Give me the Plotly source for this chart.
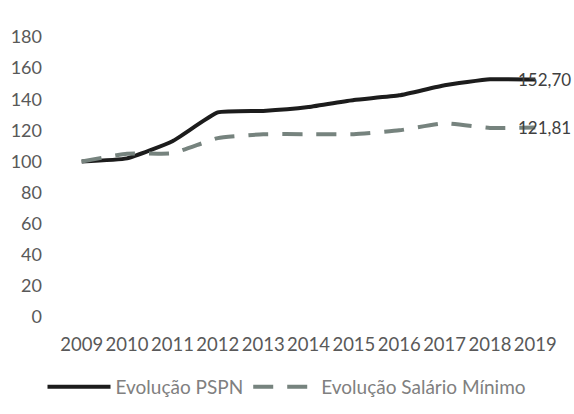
import plotly.graph_objects as go

years = ["2009", "2010", "2011", "2012", "2013", "2014", "2015", "2016", "2017", "2018", "2019"]
pspn = [100, 102, 113, 131.5, 132.5, 135, 139.5, 142.5, 149, 152.8, 152.70]
salario = [100, 105, 105.3, 115, 117.5, 117.5, 117.5, 120, 124.5, 121.5, 121.81]
yticks = [0, 20, 40, 60, 80, 100, 120, 140, 160, 180]

font = "Lato"
grey = "#595959"

fig = go.Figure()
fig.add_trace(go.Scatter(
    x=years, y=pspn, mode="lines", name="Evolução PSPN",
    line=dict(color="#1c1c1c", width=4, shape="spline", smoothing=0.4),
))
fig.add_trace(go.Scatter(
    x=years, y=salario, mode="lines", name="Evolução Salário Mínimo",
    line=dict(color="#76837e", width=4, dash="20px,14px", shape="spline", smoothing=0.4),
))

last = len(years) - 1
for series in (pspn, salario):
    v = series[last]
    fig.add_annotation(
        x=last, y=v, text=f"{v:.2f}".replace(".", ","),
        showarrow=False, xanchor="left", yanchor="middle", xshift=-18,
        borderpad=0,
        font=dict(family=font, size=17, color="#404040"),
    )

fig.update_layout(
    width=574, height=414,
    margin=dict(l=59, r=16, t=37, b=97, autoexpand=False),
    paper_bgcolor="white", plot_bgcolor="white",
    font=dict(family=font, size=18, color=grey),
    showlegend=True,
    legend=dict(orientation="h", xref="container", x=0.5, xanchor="center",
                y=-0.25, yanchor="middle",
                font=dict(family=font, size=19, color="#808080"), itemwidth=63,
                tracegroupgap=0),
    xaxis=dict(type="category", showgrid=False, showline=False, zeroline=False,
               ticks="", ticklabelstandoff=14, range=[-0.5, 10.5], tickangle=0,
               automargin=False,
               tickfont=dict(family=font, size=18.5, color=grey)),
    yaxis=dict(range=[0, 180], tickvals=yticks, showgrid=False, showline=False,
               zeroline=False, ticks="", ticklabelstandoff=16, automargin=False,
               tickfont=dict(family=font, size=18, color=grey)),
)

fig.write_html("out.html")
